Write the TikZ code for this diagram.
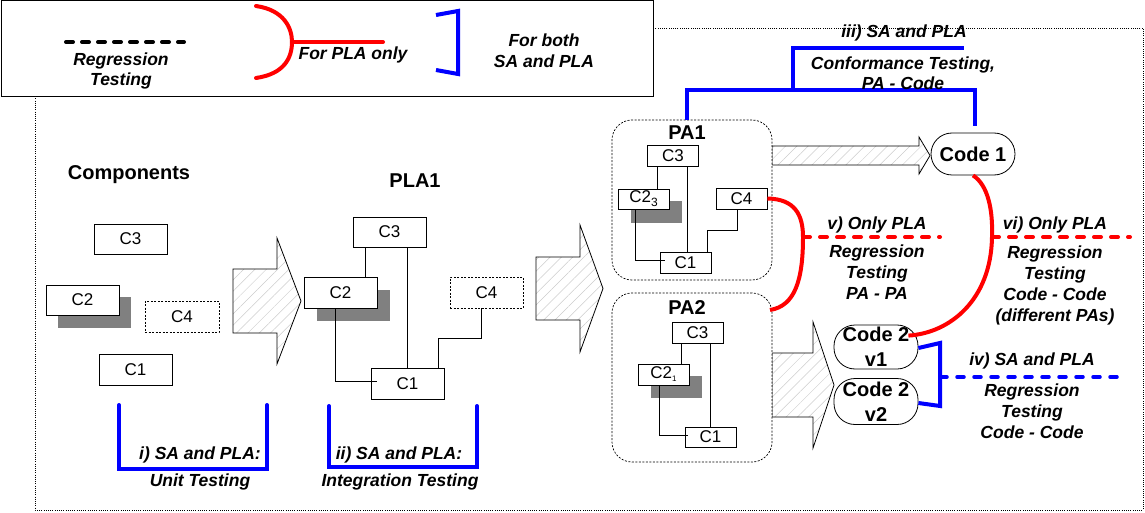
\documentclass[tikz,border=0pt]{standalone}
\usepackage{fontspec}
\setmainfont{Liberation Sans}
\usetikzlibrary{patterns.meta,calc}
\definecolor{myred}{RGB}{255,0,0}
\definecolor{myblue}{RGB}{0,0,255}
\definecolor{shade}{RGB}{128,128,128}
\begin{document}
\begin{tikzpicture}[x=1pt,y=-1pt,
  comp/.style={draw, fill=white, line width=0.8pt, minimum width=73pt, minimum height=30pt, inner sep=0pt, font=\fontsize{17}{20}\selectfont},
  small/.style={comp, minimum width=51pt, minimum height=21pt},
  dbox/.style={dash pattern=on 2pt off 1.5pt},
  ttl/.style={font=\fontsize{20}{24}\selectfont\bfseries, inner sep=0pt},
  lbl/.style={font=\fontsize{17.5}{21}\selectfont\bfseries\itshape, align=center, inner sep=0pt},
  bluel/.style={draw=myblue, line width=4pt, line cap=round},
  redl/.style={draw=myred, line width=4pt, line cap=round},
  hatch/.style={draw, line width=0.8pt, pattern={Lines[angle=45,distance=8pt,line width=0.5pt]}, pattern color=black!20},
  shadowbox/.style={fill=shade},
  codebox/.style={draw, fill=white, line width=0.8pt, rounded corners=21pt, minimum width=84pt, minimum height=44pt, inner sep=0pt, align=center, font=\fontsize{20}{25}\selectfont\bfseries},
  pabox/.style={draw, fill=white, line width=0.7pt, rounded corners=20pt, dash pattern=on 2pt off 1.5pt, minimum width=160pt, inner sep=0pt},
  lines/.style={line width=0.8pt}
]
\useasboundingbox (0,0) rectangle (1145,513);
% big dotted frame
\draw[line width=0.8pt, dash pattern=on 1pt off 1.2pt] (35,28) rectangle (1143,510);
% legend
\draw[line width=1pt, fill=white] (1.5,1) rectangle (653,97);
\draw[line width=4pt, line cap=round, dash pattern=on 7pt off 9pt] (66,42) -- (184,42);
\node[lbl, font=\fontsize{17.5}{19.5}\selectfont\bfseries\itshape] (legreg) at (121,71) {Regression\\Testing};
\draw[redl] (256,6) .. controls (284,10) and (292,28) .. (292,42) .. controls (292,58) and (284,74) .. (256,78);
\draw[redl] (292,42) -- (383,42);
\node[lbl] (legpla) at (353,55) {For PLA only};
\draw[bluel, line cap=butt] (436,15) -- (458,11) -- (458,74) -- (436,70);
\node[lbl] (legboth) at (544,51) {For both\\SA and PLA};

% Components
\node[ttl] (comptitle) at (129,175) {Components};
\node[comp] (c3a) at (130.5,239) {C3};
\fill[shadowbox] (58,297) rectangle (131,328);
\node[comp] (c2a) at (82.5,300) {C2};
\node[comp, dbox, minimum width=74pt, minimum height=31pt] (c4a) at (182,316.5) {C4};
\node[comp, minimum height=31pt] (c1a) at (135.5,369.5) {C1};
\draw[bluel, line cap=round] (119,405) -- (119,469) -- (267,469) -- (267,405);
\node[lbl] (ilbl) at (200,455) {i) SA and PLA:};
\node[lbl] (ilbl2) at (200,482) {Unit Testing};

% arrow 1
\draw[hatch] (233,269) -- (277,269) -- (277,238) -- (301,301) -- (277,364) -- (277,333) -- (233,333) -- cycle;

% PLA1
\node[ttl] (platitle) at (415,181) {PLA1};
\node[comp] (c3b) at (389.5,232) {C3};
\fill[shadowbox] (317,290) rectangle (390,321);
\node[comp, minimum height=31pt] (c2b) at (340.5,292.5) {C2};
\node[comp, dbox, minimum height=31pt] (c4b) at (486.5,292.5) {C4};
\node[comp, minimum height=31pt] (c1b) at (407.5,383.5) {C1};
\draw[lines] (c3b.south -| 365,0) -- (c2b.north -| 365,0);
\draw[lines] (c3b.south -| 407,0) -- (c1b.north -| 407,0);
\draw[lines] (c2b.south -| 335,0) |- ($(c1b.west)+(6,-2.5)$);
\draw[lines] (c4b.south -| 481,0) |- (438,338) -- (c1b.north -| 438,0);
\draw[bluel] (329,406) -- (329,467) -- (477,467) -- (477,406);
\node[lbl] (iilbl) at (399,455) {ii) SA and PLA:};
\node[lbl] (iilbl2) at (400,482) {Integration Testing};

% arrow 2
\draw[hatch] (536,257) -- (580,257) -- (580,225) -- (603,288.5) -- (580,352) -- (580,320) -- (536,320) -- cycle;

% arrows to code
\draw[hatch] (772,146) -- (919,146) -- (919,137) -- (930,155.5) -- (919,174) -- (919,165) -- (772,165) -- cycle;
\draw[hatch] (772,353) -- (813,353) -- (813,322) -- (834,385) -- (813,448) -- (813,417) -- (772,417) -- cycle;

% PA1
\node[pabox, minimum height=160pt] (pa1) at (692,200) {};
\node[ttl] (pa1t) at (687,133) {PA1};
\node[small] (c3c) at (673,155.5) {C3};
\fill[shadowbox] (631,201) rectangle (682,223);
\node[small, minimum height=20pt] (c2c) at (643.5,199) {C2\raisebox{-4pt}{\fontsize{12}{12}\selectfont 3}};
\node[small] (c4c) at (741.5,198.5) {C4};
\node[small] (c1c) at (685.5,262.5) {C1};
\draw[lines] (c3c.south -| 657,0) -- (c2c.north -| 657,0);
\draw[lines] (c3c.south -| 687,0) -- (c1c.north -| 687,0);
\draw[lines] (c2c.south -| 635,0) |- ($(c1c.west)+(5,-2.5)$);
\draw[lines] (c4c.south -| 737,0) |- (707,230) -- (c1c.north -| 707,0);

% PA2
\node[pabox, minimum height=169pt] (pa2) at (692,377.5) {};
\node[ttl] (pa2t) at (687,308) {PA2};
\node[small] (c3d) at (697.5,332.5) {C3};
\fill[shadowbox] (651,376) rectangle (702,398);
\node[small] (c2d) at (663.5,374.5) {C2\raisebox{-3pt}{\fontsize{8}{8}\selectfont 1}};
\node[small, minimum height=20pt] (c1d) at (710.5,437) {C1};
\draw[lines] (c3d.south -| 681,0) -- (c2d.north -| 681,0);
\draw[lines] (c3d.south -| 710,0) -- (c1d.north -| 710,0);
\draw[lines] (c2d.south -| 659,0) |- ($(c1d.west)+(3,-2)$);

% Code nodes
\node[codebox, minimum height=42pt] (code1) at (973,154) {Code 1};
\node[codebox] (code2a) at (876,347) {Code 2\\v1};
\node[codebox, minimum height=46pt] (code2b) at (876,401.5) {Code 2\\v2};

% iii) conformance
\coordinate (iiitop) at (964,48);
\draw[bluel, line cap=butt] (pa1.north -| 687,0) -- (687,90) -- (975,90) -- (975,126);
\draw[bluel, line cap=butt] (793,90) -- (793,48) -- (iiitop);
\node[lbl] (iiil) at (904,33) {iii) SA and PLA};
\node[lbl, font=\fontsize{17.5}{20}\selectfont\bfseries\itshape] (iiil2) at (903,73) {Conformance Testing,\\PA - Code};

% v) regression PA-PA
\coordinate (vapex) at (803,237);
\coordinate (vend) at (770,310);
\draw[redl, line cap=butt] (c4c.east) .. controls (795,199) and (803,215) .. (vapex) .. controls (803,280) and (795,306) .. (vend);
\draw[redl, line cap=round, dash pattern=on 7pt off 10pt] (vapex) -- (940,237);
\node[lbl] (vl) at (877,225) {v) Only PLA};
\node[lbl] (vl2) at (877,272) {Regression\\Testing\\PA - PA};

% vi) regression code-code
\coordinate (viapex) at (992,237);
\draw[redl, line cap=butt] (code1.south) .. controls (988,185) and (993,210) .. (viapex) .. controls (991,300) and (950,333) .. ($(code2a.north east)+(-10,11)$);
\draw[redl, line cap=round, dash pattern=on 7pt off 10pt] (viapex) -- (1130,237);
\node[lbl] (vil) at (1055,225) {vi) Only PLA};
\node[lbl] (vil2) at (1055,285) {Regression\\Testing\\Code - Code\\(different PAs)};

% iv) regression code2 versions
\coordinate (ivmid) at (940,377);
\draw[bluel, line cap=butt] (code2a.east |- 0,348) -- (940,343) -- (940,406) -- (code2b.east |- 0,403);
\draw[myblue, line width=3.5pt, line cap=round, dash pattern=on 7pt off 10pt] (ivmid) -- (1117,377);
\node[lbl] (ivl) at (1032,361) {iv) SA and PLA};
\node[lbl] (ivl2) at (1032,411) {Regression\\Testing\\Code - Code};
\end{tikzpicture}
\end{document}
